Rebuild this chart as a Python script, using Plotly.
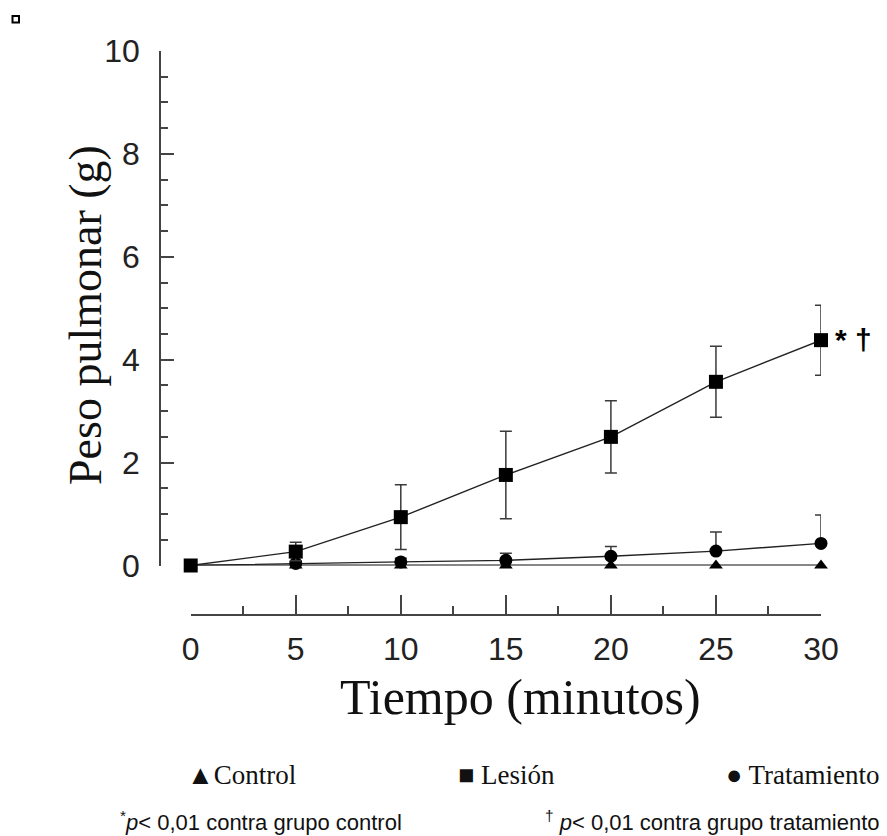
import plotly.graph_objects as go

tiempo = [0, 5, 10, 15, 20, 25, 30]
control = [0, 0, 0, 0, 0, 0, 0]
lesion = [0, 0.27, 0.94, 1.76, 2.50, 3.57, 4.38]
lesion_err = [0.04, 0.18, 0.63, 0.85, 0.70, 0.69, 0.68]
tratamiento = [0, 0.04, 0.07, 0.10, 0.18, 0.28, 0.43]
tratamiento_err = [0, 0.04, 0.07, 0.14, 0.19, 0.37, 0.55]
tratamiento_err_minus = [0, 0, 0, 0, 0, 0, 0]

x_ticks = [0, 5, 10, 15, 20, 25, 30]
y_ticks = [0, 2, 4, 6, 8, 10]

line_col = "#222222"
err_col = "#3a3a3a"

fig = go.Figure()
fig.add_trace(go.Scatter(
    x=tiempo, y=control, mode="lines+markers", name="Control",
    line=dict(color="#111111", width=2),
    marker=dict(symbol="triangle-up", size=12, color="black"),
    cliponaxis=False))
fig.add_trace(go.Scatter(
    x=tiempo, y=tratamiento, mode="lines+markers", name="Tratamiento",
    line=dict(color=line_col, width=1.4),
    marker=dict(symbol="circle", size=13, color="black"),
    error_y=dict(type="data", array=tratamiento_err, arrayminus=tratamiento_err_minus,
                 color=err_col, thickness=1.5, width=6),
    cliponaxis=False))
fig.add_trace(go.Scatter(
    x=tiempo, y=lesion, mode="lines+markers", name="Lesión",
    line=dict(color=line_col, width=1.4),
    marker=dict(symbol="square", size=14, color="black"),
    error_y=dict(type="data", array=lesion_err, color=err_col, thickness=1.5, width=6),
    cliponaxis=False))

# significance mark next to last Lesión point
fig.add_annotation(x=tiempo[-1], y=lesion[-1], text="<b>* †</b>", showarrow=False,
                   xanchor="left", yanchor="middle", xshift=12, yshift=1,
                   font=dict(family="Liberation Sans", size=30, color="black"))

W, H = 887, 836
ml, mr, mt, mb = 160, 66, 51, 221
pw = W - ml - mr
ph = H - mt - mb

def px(xp):
    return (xp - ml) / pw

def py(yp):
    return (H - mb - yp) / ph

x0 = px(190.7)
y0 = py(565.5)

fig.update_layout(
    width=W, height=H,
    margin=dict(l=ml, r=mr, t=mt, b=mb, pad=0),
    paper_bgcolor="white", plot_bgcolor="white",
    showlegend=False,
    xaxis=dict(domain=[x0, 1], range=[0, 30], anchor="free", position=0,
               tickmode="array", tickvals=x_ticks, ticktext=[str(v) for v in x_ticks],
               ticks="inside", ticklen=19, tickwidth=1.5, tickcolor="#444",
               minor=dict(dtick=2.5, tick0=0, ticks="inside", ticklen=8, tickwidth=1.5, tickcolor="#444"),
               showline=True, linecolor="#444", linewidth=1.5,
               showgrid=False, zeroline=False,
               tickfont=dict(family="Liberation Sans", size=32, color="#222"),
               ticklabelstandoff=6),
    yaxis=dict(domain=[y0, 1], range=[0, 10], anchor="free", position=0,
               tickmode="array", tickvals=y_ticks, ticktext=[str(v) for v in y_ticks],
               ticks="inside", ticklen=13, tickwidth=1.5, tickcolor="#444",
               minor=dict(dtick=0.5, tick0=0, ticks="inside", ticklen=7, tickwidth=1.5, tickcolor="#444"),
               showline=True, linecolor="#444", linewidth=1.5,
               showgrid=False, zeroline=False,
               tickfont=dict(family="Liberation Sans", size=32, color="#222"),
               ticklabelstandoff=13),
)

# axis titles
fig.add_annotation(xref="paper", yref="paper", x=px(85), y=py(315),
                   text="Peso pulmonar (g)", textangle=-90, showarrow=False,
                   xanchor="center", yanchor="middle",
                   font=dict(family="Liberation Serif", size=46, color="#111"))
fig.add_annotation(xref="paper", yref="paper", x=px(520), y=py(697),
                   text="Tiempo (minutos)", showarrow=False,
                   xanchor="center", yanchor="middle",
                   font=dict(family="Liberation Serif", size=50, color="#111"))

# legend row
leg_font = dict(family="Liberation Serif", size=27, color="#111")
fig.add_annotation(xref="paper", yref="paper", x=px(185), y=py(775), text="▲Control",
                   showarrow=False, xanchor="left", yanchor="middle", font=leg_font)
fig.add_annotation(xref="paper", yref="paper", x=px(456), y=py(775), text="■ Lesión",
                   showarrow=False, xanchor="left", yanchor="middle", font=leg_font)
fig.add_annotation(xref="paper", yref="paper", x=px(882), y=py(775), text="● Tratamiento",
                   showarrow=False, xanchor="right", yanchor="middle", font=leg_font)

# footnotes
fn_font = dict(family="Liberation Sans", size=22, color="#111")
fig.add_annotation(xref="paper", yref="paper", x=px(118), y=py(821),
                   text="<sup>*</sup><i>p</i>< 0,01 contra grupo control",
                   showarrow=False, xanchor="left", yanchor="middle", font=fn_font)
fig.add_annotation(xref="paper", yref="paper", x=px(882), y=py(821),
                   text="<sup>†</sup> <i>p</i>< 0,01 contra grupo tratamiento",
                   showarrow=False, xanchor="right", yanchor="middle", font=fn_font)

# small square mark at top-left
fig.add_shape(type="rect", xref="paper", yref="paper",
              x0=px(12.5), x1=px(19), y0=py(22.5), y1=py(16),
              line=dict(color="black", width=2), fillcolor="white")

fig.write_html("out.html")
